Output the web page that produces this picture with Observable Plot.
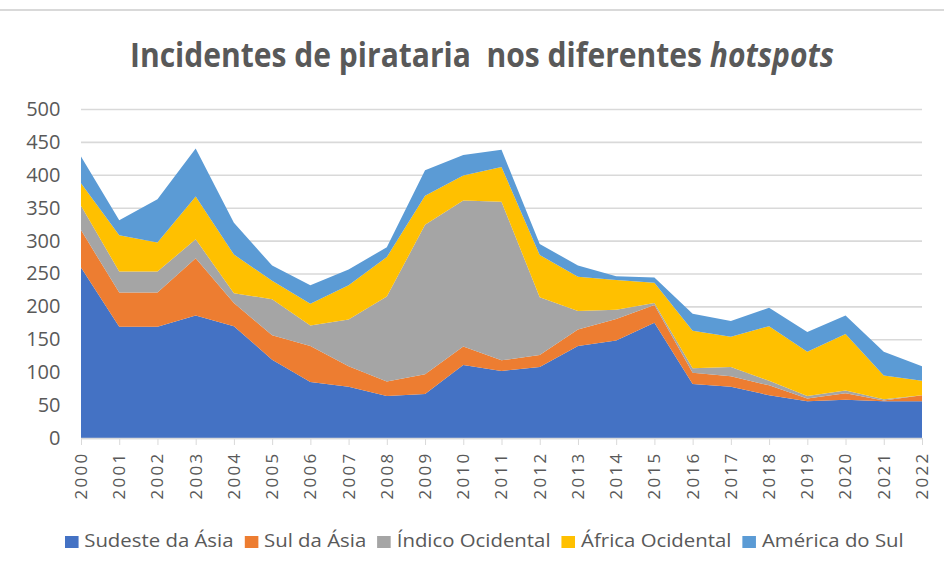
<!DOCTYPE html>
<html><head><meta charset="utf-8">
<script src="https://cdn.jsdelivr.net/npm/d3@7"></script>
<script src="https://cdn.jsdelivr.net/npm/@observablehq/plot@0.6"></script>
<style>
html,body{margin:0;padding:0;background:#fff;}
#wrap{width:944px;height:574px;position:relative;overflow:hidden;font-family:"Open Sans",sans-serif;color:#595959;}
#frame{position:absolute;left:0;top:9px;width:944px;height:2px;background:#d9d9d9;}
#title{height:90px;position:relative;}
#title span{position:absolute;left:130px;top:34px;font-size:34px;font-weight:700;white-space:pre;transform-origin:0 0;line-height:1.2;}
#chart{height:430px;}
#legend{position:relative;height:54px;}
#legend .inner{position:absolute;left:65px;top:9px;white-space:nowrap;transform-origin:0 0;font-size:18px;line-height:1.3;}
#legend .item{display:inline-block;margin-right:10px;}
#legend .sw{display:inline-block;width:12px;height:12px;margin-right:5px;vertical-align:-1px;}
</style></head><body>
<div id="wrap">
<div id="frame"></div>
<div id="title"><span id="tt">Incidentes de pirataria  nos diferentes <i>hotspots</i></span></div>
<div id="chart"></div>
<div id="legend"><div class="inner" id="lg"></div></div>
</div>
<script>
const years = [2000,2001,2002,2003,2004,2005,2006,2007,2008,2009,2010,2011,2012,2013,2014,2015,2016,2017,2018,2019,2020,2021,2022];
const seriesNames = ["Sudeste da Ásia","Sul da Ásia","Índico Ocidental","África Ocidental","América do Sul"];
const colors = ["#4472C4","#ED7D31","#A5A5A5","#FFC000","#5B9BD5"];
const sudesteAsia   = [259,169,169,186,170,119,85,78,64,67,111,102,108,140,148,175,82,78,65,56,58,56,56];
const sulAsia       = [57,52,52,87,35,37,55,31,22,30,28,16,18,25,33,27,17,16,15,4,10,1,9];
const indicoOcid    = [37,32,32,29,15,55,31,71,129,227,222,241,88,28,14,3,7,14,7,4,4,2,0];
const africaOcid    = [34,55,44,65,59,28,33,52,60,44,38,53,64,52,45,31,57,46,83,67,86,36,22];
const americaSul    = [41,23,66,73,48,23,28,24,15,39,31,26,17,17,6,8,26,24,28,30,28,36,22];
const yTicks = [0,50,100,150,200,250,300,350,400,450,500];

const seriesValues = [sudesteAsia, sulAsia, indicoOcid, africaOcid, americaSul];
const rows = [];
seriesNames.forEach((s, i) => years.forEach((y, j) => rows.push({year: y, series: s, value: seriesValues[i][j]})));

const chart = Plot.plot({
  width: 944, height: 430,
  marginLeft: 81, marginRight: 22, marginTop: 19, marginBottom: 82,
  style: {fontFamily: "Open Sans, sans-serif", color: "#595959", background: "transparent"},
  x: {domain: [2000, 2022]},
  y: {domain: [0, 500]},
  color: {domain: seriesNames, range: colors},
  marks: [
    Plot.gridY(yTicks, {stroke: "#d9d9d9", strokeOpacity: 1, strokeWidth: 1.6}),
    Plot.areaY(rows, {x: "year", y: "value", fill: "series", order: null}),
    Plot.ruleY([0], {stroke: "#d9d9d9", strokeWidth: 1.6}),
    Plot.axisY(yTicks, {tickSize: 0, tickPadding: 21, fontSize: 20, fill: "#595959", label: null}),
    Plot.axisX(years, {tickSize: 7, stroke: "#d9d9d9", fill: "#595959", tickRotate: -90, tickPadding: 6, fontSize: 17, tickFormat: d => String(d), label: null})
  ]
});
document.getElementById("chart").appendChild(chart);
d3.select(chart).selectAll("g[aria-label='x-axis tick label'] text").style("letter-spacing", "2.3px");

const lg = document.getElementById("lg");
seriesNames.forEach((s, i) => {
  const it = document.createElement("span"); it.className = "item";
  const sw = document.createElement("span"); sw.className = "sw"; sw.style.background = colors[i];
  it.appendChild(sw); it.appendChild(document.createTextNode(s));
  lg.appendChild(it);
});
function fit(el, w) { const r = el.getBoundingClientRect().width; el.style.transform = `scaleX(${w / r})`; }
fit(document.getElementById("tt"), 704);
fit(lg, 850);
</script>
</body></html>
